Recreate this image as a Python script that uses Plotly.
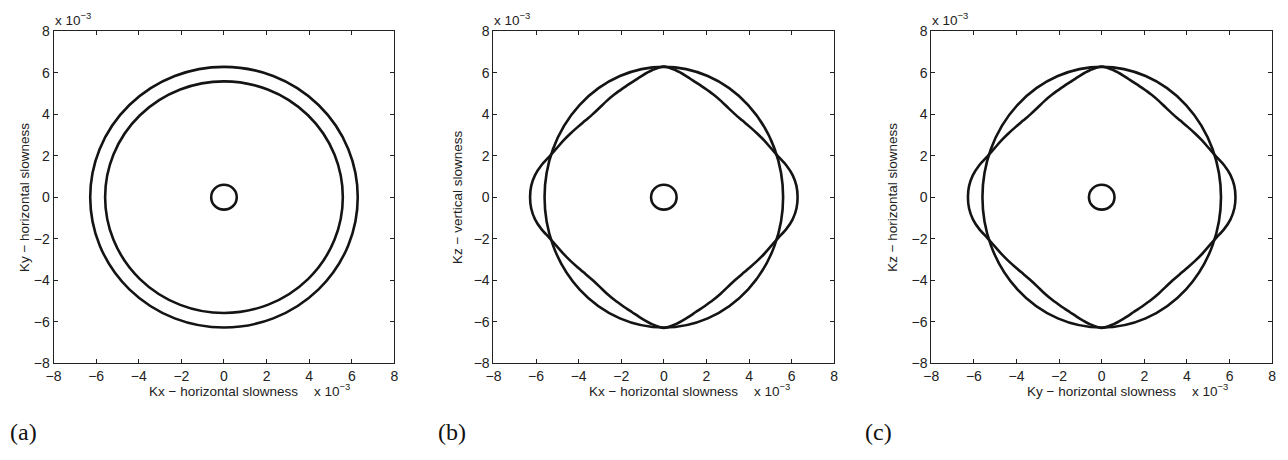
import numpy as np
import plotly.graph_objects as go

# ---- data (slowness values, units of 1e-3 s/m) ----
tick_values = [-8, -6, -4, -2, 0, 2, 4, 6, 8]

# panel (a): Kx-Ky plane, three circular sheets
circle_radii_a = [6.28, 5.58, 0.6]

# panels (b) and (c): vertical planes
ellipse_semi_axes = [5.6, 6.28]         # horizontal, vertical
inner_circle_radius = 0.6
sheet_angles_deg = [0, 5, 10, 15, 20, 25, 30, 35, 40, 45,
                    50, 55, 60, 65, 70, 75, 80, 85, 90]
sheet_radius = [6.28, 6.25, 6.14, 5.95, 5.72, 5.56, 5.45, 5.35, 5.27, 5.22,
                5.21, 5.26, 5.36, 5.47, 5.59, 5.74, 5.94, 6.15, 6.30]

panel_tags = ["(a)", "(b)", "(c)"]
x_titles = ["Kx \u2212 horizontal slowness", "Kx \u2212 horizontal slowness",
            "Ky \u2212 horizontal slowness"]
y_titles = ["Ky \u2212 horizontal slowness", "Kz \u2212 vertical slowness",
            "Kz \u2212 horizontal slowness"]

# ---- layout geometry (pixels) ----
W, H = 1288, 460
plot_left = [46, 490, 932]
plot_size = 344
plot_top = 24
ytitle_offset = [30, 37, 40]
tag_left = [0, 432, 863]

LINE = dict(color="#141414", width=2.6)
FONT = "Liberation Sans, Arial, Helvetica, sans-serif"
TXT = "#222"


def px_x(p):
    return p / W


def px_y(p):
    return 1 - p / H


def full_sheet(angles, radii):
    """Mirror a first-quadrant polar profile into a closed curve."""
    a = np.radians(np.array(angles, dtype=float))
    r = np.array(radii, dtype=float)
    th = np.concatenate([a, np.pi - a[::-1][1:], np.pi + a[1:], 2 * np.pi - a[::-1][1:]])
    rr = np.concatenate([r, r[::-1][1:], r[1:], r[::-1][1:]])
    return rr * np.cos(th), rr * np.sin(th)


fig = go.Figure()
shapes = []
annotations = []

for i in range(3):
    xa = "x" if i == 0 else f"x{i + 1}"
    ya = "y" if i == 0 else f"y{i + 1}"
    left = plot_left[i]
    axis_common = dict(
        range=[-8, 8], tickmode="array", tickvals=tick_values,
        ticks="inside", ticklen=4, tickwidth=1, tickcolor=TXT,
        showline=True, linecolor=TXT, linewidth=1, mirror="ticks",
        showgrid=False, zeroline=False,
        tickfont=dict(family=FONT, size=14, color=TXT),
    )
    fig.update_layout(**{
        ("xaxis" if i == 0 else f"xaxis{i + 1}"): dict(
            axis_common, domain=[px_x(left), px_x(left + plot_size)], anchor=ya),
        ("yaxis" if i == 0 else f"yaxis{i + 1}"): dict(
            axis_common, domain=[px_y(plot_top + plot_size), px_y(plot_top)], anchor=xa),
    })

    if i == 0:
        for r in circle_radii_a:
            shapes.append(dict(type="circle", xref=xa, yref=ya, x0=-r, x1=r, y0=-r, y1=r,
                               line=LINE))
    else:
        a, b = ellipse_semi_axes
        shapes.append(dict(type="circle", xref=xa, yref=ya, x0=-a, x1=a, y0=-b, y1=b,
                           line=LINE))
        r = inner_circle_radius
        shapes.append(dict(type="circle", xref=xa, yref=ya, x0=-r, x1=r, y0=-r, y1=r,
                           line=LINE))
        sx, sy = full_sheet(sheet_angles_deg, sheet_radius)
        fig.add_trace(go.Scatter(x=sx, y=sy, mode="lines", xaxis=xa, yaxis=ya,
                                 line=dict(LINE, shape="spline", smoothing=0.8),
                                 hoverinfo="skip", showlegend=False))

    # axis titles
    cx = left + plot_size / 2
    annotations.append(dict(text=x_titles[i], xref="paper", yref="paper",
                            x=px_x(cx), y=px_y(397), xanchor="center", yanchor="middle",
                            showarrow=False, font=dict(family=FONT, size=13.5, color=TXT)))
    annotations.append(dict(text="x 10<sup>\u22123</sup>", xref="paper", yref="paper",
                            x=px_x(left + 261), y=px_y(396), xanchor="left", yanchor="middle",
                            showarrow=False, font=dict(family=FONT, size=13.5, color=TXT)))
    annotations.append(dict(text=y_titles[i], xref="paper", yref="paper", textangle=-90,
                            x=px_x(left - ytitle_offset[i]), y=px_y(plot_top + plot_size / 2),
                            xanchor="center", yanchor="middle",
                            showarrow=False, font=dict(family=FONT, size=13.5, color=TXT)))
    # exponent on the vertical axis
    annotations.append(dict(text="x 10<sup>\u22123</sup>", xref="paper", yref="paper",
                            x=px_x(left - 1), y=px_y(plot_top - 1), xanchor="left",
                            yanchor="bottom", showarrow=False,
                            font=dict(family=FONT, size=13.5, color=TXT)))
    # panel tag
    annotations.append(dict(text=panel_tags[i], xref="paper", yref="paper",
                            x=px_x(tag_left[i]), y=px_y(439),
                            xanchor="left", yanchor="middle", showarrow=False,
                            font=dict(family="Liberation Serif, DejaVu Serif, serif",
                                      size=24, color="#111")))

fig.update_layout(
    width=W, height=H, margin=dict(l=0, r=0, t=0, b=0),
    paper_bgcolor="white", plot_bgcolor="white",
    shapes=shapes, annotations=annotations, showlegend=False,
)

fig.write_html("out.html")
